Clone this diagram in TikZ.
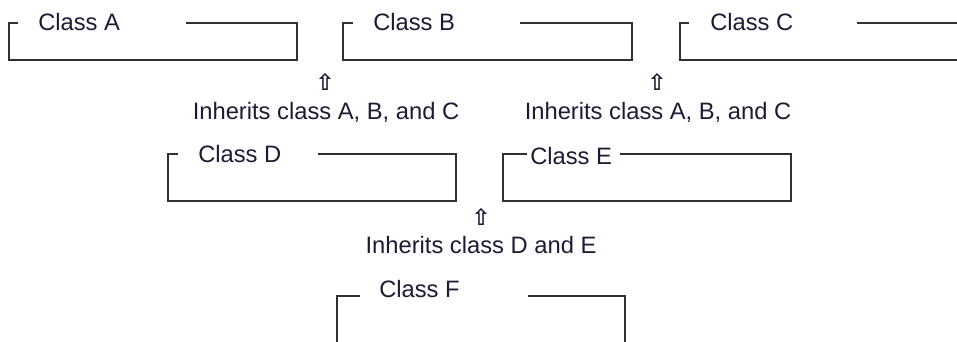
\documentclass[tikz,border=0pt]{standalone}
\usepackage{fontspec}
\setmainfont{Liberation Sans}
\newfontfamily\arrowfont{DejaVu Sans Bold}
\usetikzlibrary{positioning}

\definecolor{framegray}{HTML}{303030}
\definecolor{inkdark}{HTML}{1E1A34}

\tikzset{
  frame/.style={draw=framegray, line width=1.5pt},
  title/.style={anchor=base west, inner sep=0pt, text=inkdark,
    font=\fontsize{17.8}{20}\selectfont},
  note/.style={anchor=base, inner sep=0pt, text=inkdark,
    font=\fontsize{17.8}{20}\selectfont},
  upmark/.style={inner sep=0pt, text=inkdark,
    font=\arrowfont\fontsize{17}{18}\selectfont}
}

\begin{document}
\begin{tikzpicture}[x=0.75pt, y=-0.75pt]
  \useasboundingbox (0,0) rectangle (957,342);
  \clip (0,0) rectangle (957,342);

  % top row
  \draw[frame] (18,23.5) -- (9,23.5) -- (9,60) -- (297,60) -- (297,23.5) -- (186,23.5);
  \draw[frame] (353,23.5) -- (343,23.5) -- (343,60) -- (632,60) -- (632,23.5) -- (520,23.5);
  \draw[frame] (689,23.5) -- (680,23.5) -- (680,60) -- (1000,60) -- (1000,23.5) -- (857,23.5);
  \node[title] at (38,31)(classA){Class A};
  \node[title] at (373,31)(classB){Class B};
  \node[title] at (710,31)(classC){Class C};

  \node[upmark] at (325,82)(upAB){⇧};
  \node[upmark] at (657,82)(upBC){⇧};
  \node[note] at (326,120)(inhD){Inherits class A, B, and C};
  \node[note] at (658,120)(inhE){Inherits class A, B, and C};

  % middle row
  \draw[frame] (178,154) -- (168,154) -- (168,201) -- (456,201) -- (456,154) -- (318,154);
  \draw[frame] (527,154) -- (503,154) -- (503,201) -- (791,201) -- (791,154) -- (620,154);
  \node[title] at (198,163)(classD){Class D};
  \node[title] at (530,165)(classE){Class E};

  \node[upmark] at (481,217)(upDE){⇧};
  \node[note] at (481,253)(inhF){Inherits class D and E};

  % bottom row
  \draw[frame] (360,296) -- (337,296) -- (337,400) -- (625,400) -- (625,296) -- (528,296);
  \node[title] at (379,297)(classF){Class F};
\end{tikzpicture}
\end{document}
